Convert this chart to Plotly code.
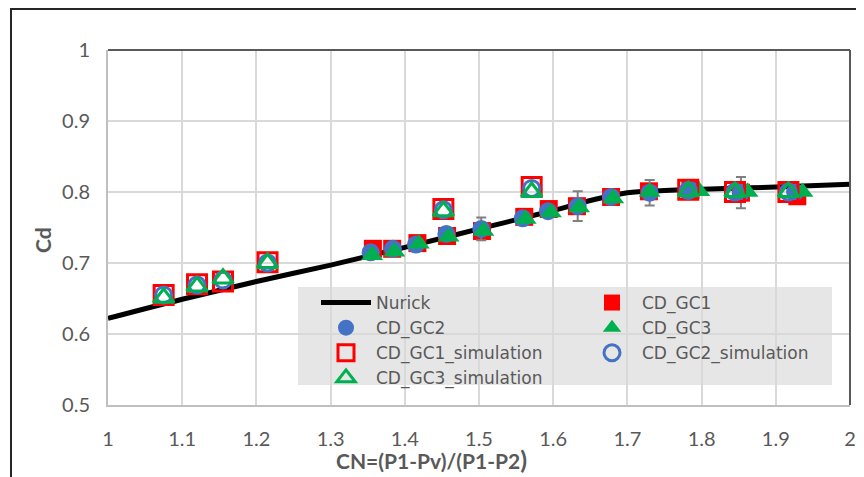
import plotly.graph_objects as go

# ---------------- data ----------------
nurick_cn = [1.0, 1.1, 1.2, 1.3, 1.4, 1.5, 1.6, 1.65, 1.7, 1.75, 1.8, 1.9, 2.0]
nurick_cd = [0.622, 0.649, 0.674, 0.697, 0.722, 0.748, 0.774, 0.788, 0.799, 0.802, 0.804, 0.807, 0.811]

gc1_cn = [1.357, 1.383, 1.417, 1.457, 1.504, 1.561, 1.594, 1.632, 1.678, 1.729, 1.785, 1.853, 1.929]
gc1_cd = [0.720, 0.720, 0.728, 0.738, 0.745, 0.765, 0.776, 0.780, 0.793, 0.801, 0.803, 0.799, 0.794]

gc2_cn = [1.354, 1.384, 1.415, 1.456, 1.503, 1.559, 1.593, 1.633, 1.678, 1.730, 1.785, 1.853, 1.926]
gc2_cd = [0.715, 0.720, 0.726, 0.741, 0.748, 0.763, 0.773, 0.780, 0.793, 0.799, 0.803, 0.799, 0.800]
gc2_err = [0, 0, 0, 0, 0.016, 0, 0, 0.021, 0, 0.018, 0, 0.022, 0]

gc3_cn = [1.356, 1.386, 1.419, 1.459, 1.506, 1.563, 1.597, 1.635, 1.681, 1.730, 1.797, 1.862, 1.936]
gc3_cd = [0.711, 0.716, 0.727, 0.737, 0.745, 0.762, 0.771, 0.778, 0.791, 0.800, 0.801, 0.800, 0.800]

sim_cn = [1.075, 1.12, 1.155, 1.215, 1.452, 1.571, 1.782, 1.845, 1.917]
gc1_sim_cd = [0.655, 0.670, 0.674, 0.701, 0.776, 0.807, 0.803, 0.800, 0.800]
gc2_sim_cd = [0.655, 0.669, 0.676, 0.700, 0.775, 0.805, 0.802, 0.800, 0.800]
gc3_sim_cd = [0.651, 0.667, 0.678, 0.700, 0.773, 0.800, 0.801, 0.800, 0.800]

x_ticks = [1, 1.1, 1.2, 1.3, 1.4, 1.5, 1.6, 1.7, 1.8, 1.9, 2]
x_tick_labels = ["1", "1.1", "1.2", "1.3", "1.4", "1.5", "1.6", "1.7", "1.8", "1.9", "2"]
y_ticks = [0.5, 0.6, 0.7, 0.8, 0.9, 1.0]
y_tick_labels = ["0.5", "0.6", "0.7", "0.8", "0.9", "1"]

# ---------------- styles ----------------
RED = "#FF0000"
BLUE = "#4472C4"
GREEN = "#00B050"
GREY_TXT = "#595959"
FONT = "Lato, 'Open Sans', sans-serif"
LEG_FONT = "'DejaVu Sans', 'Open Sans', sans-serif"

# page offset of the figure (body margin)
O = 8
W, H = 856, 469
L, T = 108 - O, 50 - O
R = W - (850 - O)
B = H - (405 - O)
pw, ph = W - L - R, H - T - B


def px_x(p):  # page pixel -> paper fraction
    return (p - O - L) / pw


def px_y(p):
    return (H - B - (p - O)) / ph


fig = go.Figure()

fig.add_trace(go.Scatter(x=nurick_cn, y=nurick_cd, mode="lines", name="Nurick",
                         line=dict(color="black", width=5), line_shape="spline", legend="legend"))
fig.add_trace(go.Scatter(x=gc1_cn, y=gc1_cd, mode="markers", name="CD_GC1", legend="legend2",
                         marker=dict(symbol="square", size=18, color=RED, line=dict(width=0))))
fig.add_trace(go.Scatter(x=gc2_cn, y=gc2_cd, mode="markers", name="CD_GC2", legend="legend",
                         marker=dict(symbol="circle", size=18, color=BLUE, line=dict(width=0)),
                         error_y=dict(type="data", array=gc2_err, visible=True,
                                      color="#7F7F7F", thickness=2, width=5)))
fig.add_trace(go.Scatter(x=gc3_cn, y=gc3_cd, mode="markers", name="CD_GC3", legend="legend2",
                         marker=dict(symbol="triangle-up", size=19, color=GREEN, line=dict(width=0))))
fig.add_trace(go.Scatter(x=sim_cn, y=gc1_sim_cd, mode="markers", name="CD_GC1_simulation", legend="legend",
                         marker=dict(symbol="square-open", size=19, color=RED, line=dict(width=3, color=RED))))
fig.add_trace(go.Scatter(x=sim_cn, y=gc2_sim_cd, mode="markers", name="CD_GC2_simulation", legend="legend2",
                         marker=dict(symbol="circle-open", size=16, color=BLUE, line=dict(width=3, color=BLUE))))
fig.add_trace(go.Scatter(x=sim_cn, y=gc3_sim_cd, mode="markers", name="CD_GC3_simulation", legend="legend",
                         marker=dict(symbol="triangle-up-open", size=18, color=GREEN, line=dict(width=3, color=GREEN))))

leg_common = dict(orientation="v", xanchor="left", yanchor="top",
                  bgcolor="rgba(0,0,0,0)", borderwidth=0, itemwidth=50,
                  font=dict(family=LEG_FONT, size=17, color=GREY_TXT), tracegroupgap=0)

fig.update_layout(
    width=W, height=H,
    margin=dict(l=L, r=R, t=T, b=B, pad=0, autoexpand=False),
    paper_bgcolor="white", plot_bgcolor="white",
    font=dict(family=FONT, size=19, color=GREY_TXT),
    showlegend=True,
    legend=dict(x=px_x(316), y=px_y(285), **leg_common),
    legend2=dict(x=px_x(582), y=px_y(285), **leg_common),
    xaxis=dict(range=[1, 2], tickvals=x_ticks, ticktext=x_tick_labels,
               showgrid=True, gridcolor="#D9D9D9", gridwidth=1.5,
               showline=True, linecolor="#BFBFBF", linewidth=2,
               zeroline=False, ticks="", ticklabelstandoff=15,
               tickfont=dict(family=FONT, size=20, color=GREY_TXT)),
    yaxis=dict(range=[0.5, 1.0], tickvals=y_ticks, ticktext=y_tick_labels,
               showgrid=True, gridcolor="#D9D9D9", gridwidth=1.5,
               showline=True, linecolor="#BFBFBF", linewidth=2,
               zeroline=False, ticks="", ticklabelstandoff=12,
               tickfont=dict(family=FONT, size=20, color=GREY_TXT)),
    shapes=[
        # legend background
        dict(type="rect", xref="paper", yref="paper", x0=px_x(298), x1=px_x(832),
             y0=px_y(385), y1=px_y(287), fillcolor="#E6E6E6", line=dict(width=0), layer="below"),
        # plot-area top and right border
        dict(type="line", xref="paper", yref="paper", x0=0, x1=1, y0=1, y1=1,
             line=dict(color="#595959", width=2)),
        dict(type="line", xref="paper", yref="paper", x0=1, x1=1, y0=0, y1=1,
             line=dict(color="#595959", width=2)),
        # outer chart frame (top and left)
        dict(type="line", xref="paper", yref="paper", x0=px_x(10), x1=px_x(880), y0=px_y(9), y1=px_y(9),
             line=dict(color="#262626", width=2)),
        dict(type="line", xref="paper", yref="paper", x0=px_x(11), x1=px_x(11), y0=px_y(9), y1=px_y(490),
             line=dict(color="#262626", width=2)),
    ],
    annotations=[
        dict(text="<b>Cd</b>", xref="paper", yref="paper", x=px_x(43), y=px_y(240),
             showarrow=False, textangle=-90, xanchor="center", yanchor="middle",
             font=dict(family=FONT, size=21, color=GREY_TXT)),
        dict(text="<b>CN=(P1-Pv)/(P1-P2<span style='font-size:25px'>)</span></b>",
             xref="paper", yref="paper", x=px_x(334), y=px_y(459),
             showarrow=False, xanchor="left", yanchor="middle",
             font=dict(family=FONT, size=21, color=GREY_TXT)),
    ],
)

fig.write_html("out.html")
